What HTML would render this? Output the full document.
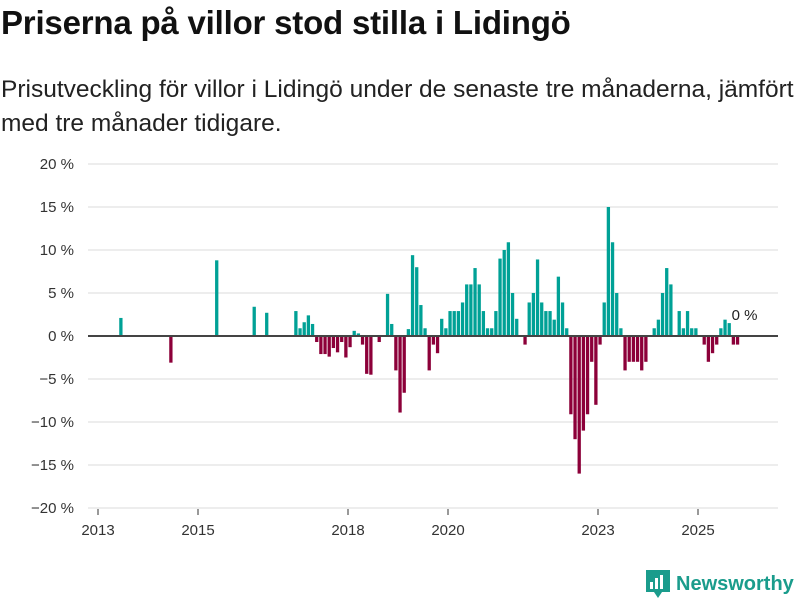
<!DOCTYPE html>
<html><head><meta charset="utf-8">
<style>
body{margin:0;background:#fff;width:800px;height:600px;overflow:hidden;font-family:"Liberation Sans","DejaVu Sans",sans-serif;color:#111}
#title{position:absolute;left:1px;top:4px;font-size:33px;font-weight:bold;margin:0;letter-spacing:-0.2px;white-space:nowrap}
#subtitle{position:absolute;left:1px;top:73px;font-size:24.5px;line-height:34px;color:#222;white-space:nowrap}
#logo{position:absolute;left:646px;top:570px;display:flex;align-items:center;gap:6px;color:#1a9c8c;font-size:20px;font-weight:bold}
</style></head><body>
<h1 id="title">Priserna på villor stod stilla i Lidingö</h1>
<div id="subtitle">Prisutveckling för villor i Lidingö under de senaste tre månaderna, jämfört<br>med tre månader tidigare.</div>
<svg id="chart" width="800" height="600" style="position:absolute;left:0;top:0"></svg>
<div id="logo">
<svg width="24" height="28" viewBox="0 0 24 28"><path d="M0 0h24v22h-8l-4 6-4-6H0z" fill="#1a9c8c"/><rect x="4" y="12" width="3" height="7" fill="#fff"/><rect x="9" y="8" width="3" height="11" fill="#fff"/><rect x="14" y="5" width="3" height="14" fill="#fff"/></svg>
<span>Newsworthy</span></div>
<script>
const startYear = 2013;
const values = [0,0,0,0,0,2.1,0,0,0,0,0,0,0,0,0,0,0,-3.1,0,0,0,0,0,0,0,0,0,0,8.8,0,0,0,0,0,0,0,0,3.4,0,0,2.7,0,0,0,0,0,0,
2.9,0.9,1.6,2.4,1.4,-0.7,-2.1,-2.1,-2.4,-1.4,-1.9,
-0.7,-2.5,-1.3,0.6,0.3,-1.0,-4.4,-4.5,0,-0.7,0,4.9,1.4,-4.0,-8.9,-6.6,
0.8,9.4,8.0,3.6,0.9,-4.0,-1.0,-2.0,2.0,0.9,2.9,2.9,2.9,3.9,6.0,6.0,7.9,6.0,2.9,0.9,0.9,2.9,9.0,10.0,10.9,5.0,
2.0,0,-1.0,3.9,5.0,8.9,3.9,2.9,2.9,1.9,6.9,3.9,0.9,-9.1,-12.0,-16.0,-11.0,-9.1,-3.0,-8.0,-1.0,3.9,15.0,10.9,5.0,0.9,
-4.0,-3,-3,-3,-4,-3,0,0.9,1.9,5.0,7.9,6.0,0,2.9,0.9,2.9,0.9,0.9,0,-1,-3,-2,-1,0.9,1.9,1.5,-1,-1];
const yTicks = [20,15,10,5,0,-5,-10,-15,-20];
const yTickLabels = ["20 %","15 %","10 %","5 %","0 %","−5 %","−10 %","−15 %","−20 %"];
const xTicks = [2013,2015,2018,2020,2023,2025];
const lastLabel = "0 %";

const svg = document.getElementById('chart');
const NS = 'http://www.w3.org/2000/svg';
const y = v => 336 - v * 8.6;
const xMonth = m => 98 + m * 50 / 12;
const xYear = yr => xMonth((yr - startYear) * 12);
function mk(tag, attrs){const e=document.createElementNS(NS,tag);for(const k in attrs)e.setAttribute(k,attrs[k]);svg.appendChild(e);return e;}

yTicks.forEach((t,i)=>{
  if(t!==0){const g=mk('line',{x1:88,x2:778,y1:y(t),y2:y(t),stroke:'#e2e2e2','stroke-width':1.3});
  
  }
  const tx=mk('text',{x:74,y:y(t)+5,'text-anchor':'end','font-size':15,fill:'#333','font-family':'Liberation Sans, sans-serif'});
  tx.textContent=yTickLabels[i];
  
  
});
values.forEach((v,m)=>{
  if(v===0) return;
  const r=mk('rect',{x:xMonth(m)+0.4,width:3.3,y:Math.min(y(v),y(0)),height:Math.abs(y(v)-y(0)),fill:v>0?'#00a196':'#8c0039'});
  
  
});
const zl=mk('line',{x1:88,x2:778,y1:y(0),y2:y(0),stroke:'#444','stroke-width':2});


xTicks.forEach(yr=>{
  const tk=mk('line',{x1:xYear(yr),x2:xYear(yr),y1:509,y2:515,stroke:'#333','stroke-width':1});
  
  
  const tx=mk('text',{x:xYear(yr),y:535,'text-anchor':'middle','font-size':15,fill:'#333','font-family':'Liberation Sans, sans-serif'});
  tx.textContent=yr;
  
  
});
const ll=mk('text',{x:xMonth(values.length)-8,y:320,'font-size':15,fill:'#222','font-family':'Liberation Sans, sans-serif'});
ll.textContent=lastLabel;


</script>
</body></html>
